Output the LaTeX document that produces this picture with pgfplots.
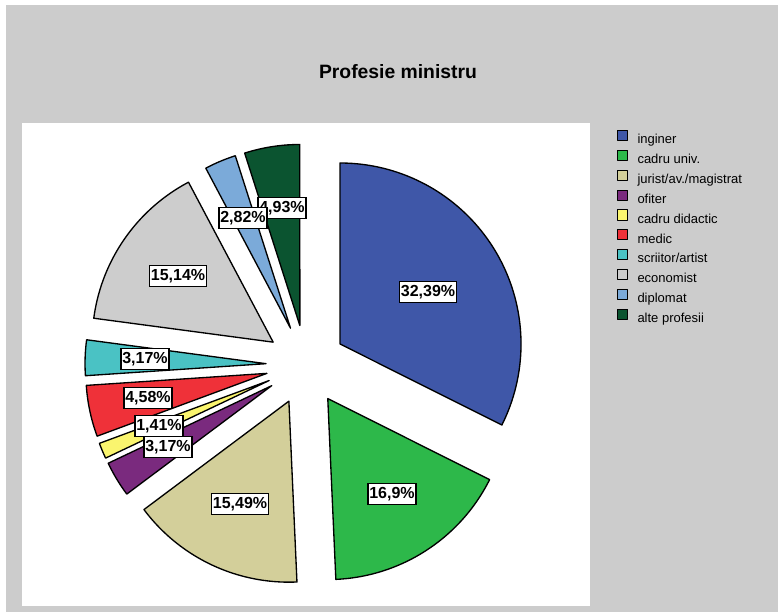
\documentclass[border=0pt]{standalone}
\usepackage{fontspec}
\setmainfont{Liberation Sans}
\usepackage{pgfplots}
\pgfplotsset{compat=1.18}

\definecolor{cIng}{HTML}{3F57A8}
\definecolor{cUniv}{HTML}{2DB84A}
\definecolor{cJur}{HTML}{D3CF9A}
\definecolor{cOf}{HTML}{7A2A7E}
\definecolor{cDid}{HTML}{FAF56E}
\definecolor{cMed}{HTML}{EF3139}
\definecolor{cScr}{HTML}{4AC2C4}
\definecolor{cEco}{HTML}{CDCDCD}
\definecolor{cDip}{HTML}{7BAAD9}
\definecolor{cAlt}{HTML}{0B5430}
\definecolor{bgGray}{HTML}{CCCCCC}

\def\cx{306}
\def\cy{365}
\def\rad{181}
\def\explode{40}

% #1 cumulative start (%), #2 share (%), #3 colour, #4 legend text
\newcommand{\slice}[4]{%
  \pgfmathsetmacro\aS{#1*3.6}%
  \pgfmathsetmacro\aE{(#1+#2)*3.6}%
  \pgfmathsetmacro\aM{(#1+#2/2)*3.6}%
  \pgfmathsetmacro\vx{\cx+\explode*sin(\aM)}%
  \pgfmathsetmacro\vy{\cy-\explode*cos(\aM)}%
  \edef\doslice{\noexpand\addplot[fill=#3, draw=black, line width=1pt, line join=round,
      domain=\aS:\aE, samples=90, variable=\noexpand\t]
      ({\vx+\rad*sin(\noexpand\t)}, {\vy-\rad*cos(\noexpand\t)}) -- (axis cs:\vx,\vy) -- cycle;}%
  \doslice
  \addlegendentry{#4}%
}

\begin{document}
\begin{tikzpicture}
\begin{axis}[
  width=583.5pt, height=459pt, scale only axis,
  xmin=0, xmax=778, ymin=0, ymax=612, y dir=reverse,
  hide axis, clip=false,
  legend image code/.code={\draw[#1, line width=0.7pt] (0pt,-0.6pt) rectangle (7.6pt,7pt);
     \path[draw=none, fill=none] (0pt,0pt) -- (15pt,0pt);},
  legend style={at={(0.7931,0.7879)}, anchor=north west, draw=none, fill=none,
    inner sep=0pt, outer sep=0pt, row sep=0pt,
    font=\fontsize{9.75}{11}\selectfont,
    nodes={inner sep=0pt, text height=10.4pt, text depth=4.5pt}},
  legend cell align=left,
]
% background
\fill[white] (axis cs:0,0) rectangle (axis cs:778,612);
\fill[bgGray] (axis cs:6,5) rectangle (axis cs:778,612);
\fill[white] (axis cs:22,123) rectangle (axis cs:590,606);

\slice{0}{32.39}{cIng}{inginer}
\slice{32.39}{16.9}{cUniv}{cadru univ.}
\slice{49.29}{15.49}{cJur}{jurist/av./magistrat}
\slice{64.78}{3.17}{cOf}{ofiter}
\slice{67.95}{1.41}{cDid}{cadru didactic}
\slice{69.36}{4.58}{cMed}{medic}
\slice{73.94}{3.17}{cScr}{scriitor/artist}
\slice{77.11}{15.14}{cEco}{economist}
\slice{92.25}{2.82}{cDip}{diplomat}
\slice{95.07}{4.93}{cAlt}{alte profesii}

\node[font=\bfseries\fontsize{14.5}{17}\selectfont] at (axis cs:398,72) {Profesie ministru};

\tikzset{lbl/.style={draw=black, fill=white, line width=0.9pt, inner xsep=1pt, inner ysep=2.4pt,
  text height=8.8pt, text depth=2.4pt, font=\bfseries\fontsize{12}{14}\selectfont}}
\node[lbl] at (axis cs:428,292) {32,39\%};
\node[lbl] at (axis cs:392,494) {16,9\%};
\node[lbl] at (axis cs:240,504) {15,49\%};
\node[lbl] at (axis cs:159,426) {1,41\%};
\node[lbl] at (axis cs:168,447) {3,17\%};
\node[lbl] at (axis cs:148,398) {4,58\%};
\node[lbl] at (axis cs:145,359) {3,17\%};
\node[lbl] at (axis cs:178,276) {15,14\%};
\node[lbl] at (axis cs:282,208) {4,93\%};
\node[lbl] at (axis cs:243,218) {2,82\%};
\end{axis}
\end{tikzpicture}
\end{document}
